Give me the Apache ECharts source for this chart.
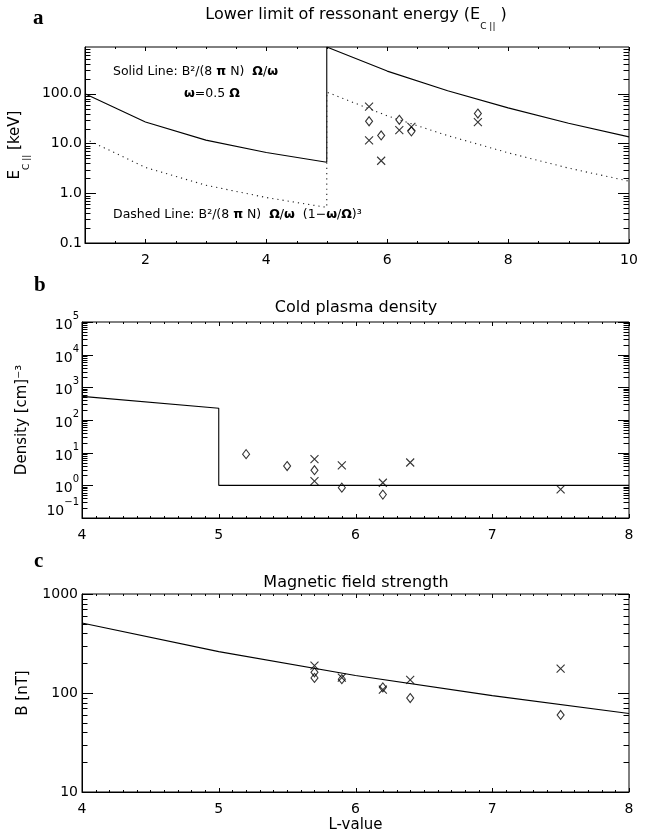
<!DOCTYPE html>
<html>
<head>
<meta charset="utf-8">
<script src="https://cdn.jsdelivr.net/npm/echarts@6/dist/echarts.min.js"></script>
<style>
  html, body { margin: 0; padding: 0; background: #fff; }
  #chart { width: 649px; height: 839px; }
</style>
</head>
<body>
<div id="chart"></div>
<script>
// ---- Panel a: lower limit of resonant energy vs L (model sampled at integer L, jump at L = 5)
const lModelA = [1, 2, 3, 4, 5, 5, 6, 7, 8, 9, 10];
const eSolid = [100, 27, 11.7, 6.6, 4.2, 870, 285, 115, 52, 25.5, 13.6];
const eDashed = [12.5, 3.3, 1.45, 0.82, 0.52, 108, 36, 14.4, 6.5, 3.2, 1.75];
const lCrossA = [5.7, 5.7, 5.9, 6.2, 6.4, 7.5];
const eCrossA = [55, 11.5, 4.5, 18.5, 21.5, 27];
const lDiamA = [5.7, 5.9, 6.2, 6.4, 7.5];
const eDiamA = [28, 14.5, 30, 17.5, 40];

// ---- Panel b: cold plasma density
const lModelB = [4, 5, 5, 6, 7, 8];
const nModel = [530, 230, 1, 1, 1, 1];
const lCrossB = [5.7, 5.7, 5.9, 6.2, 6.4, 7.5];
const nCrossB = [6.3, 1.35, 4.1, 1.2, 5.0, 0.75];
const lDiamB = [5.2, 5.5, 5.7, 5.9, 6.2];
const nDiamB = [9, 3.9, 2.9, 0.85, 0.52];

// ---- Panel c: magnetic field strength
const lModelC = [4, 5, 6, 7, 8];
const bModel = [510, 262, 150, 94, 62];
const lCrossC = [5.7, 5.9, 6.2, 6.4, 7.5];
const bCrossC = [189, 143, 108, 136, 176];
const lDiamC = [5.7, 5.7, 5.9, 6.2, 6.4, 7.5];
const bDiamC = [162, 142, 138, 114, 89, 60];

// ---- Tick values and labels
const xTicksA = [2, 4, 6, 8, 10];
const xTicksBC = [4, 5, 6, 7, 8];
const yTicksA = [0.1, 1, 10, 100];
const yLabelsA = ['0.1', '1.0', '10.0', '100.0'];
const yTicksB = [0.1, 1, 10, 100, 1e3, 1e4, 1e5];
const yExpB = ['−1', '0', '1', '2', '3', '4', '5'];
const yTicksC = [10, 100, 1000];
const yLabelsC = ['10', '100', '1000'];

const FONT = 'DejaVu Sans';
const INK = '#000';

// minor ticks between majors on a linear axis
function linMinors(min, max, step, majors) {
  const out = [];
  const n = Math.round((max - min) / step);
  for (let i = 1; i < n; i++) {
    const v = +(min + i * step).toFixed(6);
    if (!majors.some(m => Math.abs(m - v) < 1e-9)) out.push(v);
  }
  return out;
}
// 2..9 minor ticks inside every decade of a log axis
function logMinors(min, max) {
  const out = [];
  for (let e = Math.floor(Math.log10(min)); e <= Math.ceil(Math.log10(max)); e++) {
    for (let k = 2; k <= 9; k++) {
      const v = +(k * Math.pow(10, e)).toPrecision(6);
      if (v > min && v < max) out.push(v);
    }
  }
  return out;
}
function findTick(ticks, v) {
  return ticks.findIndex(t => Math.abs(Math.log10(t) - Math.log10(v)) < 1e-6);
}
// power-of-ten label; the lowest one sits raised above the frame corner
function powerLabel(v) {
  const i = findTick(yTicksB, v);
  const body = '{b|10}{p|' + (yExpB[i] || '') + '}';
  return i === 0 ? body + '\n{z| }' : body;
}

const X_MAJ = 4, X_MIN = 2, Y_MAJ = 11, Y_MIN = 5.5;

function xAxisFor(gi, min, max, major, name) {
  return {
    gridIndex: gi, type: 'value', min, max, position: 'bottom', silent: true,
    splitLine: { show: false },
    axisLine: { show: true, onZero: false, lineStyle: { color: INK, width: 1 } },
    axisTick: { show: false },
    axisLabel: { show: true, customValues: major, margin: 10, color: INK, fontFamily: FONT, fontSize: 14,
                 formatter: v => String(v) },
    name: name || '', nameLocation: 'middle', nameGap: 26,
    nameTextStyle: { color: INK, fontFamily: FONT, fontSize: 15 }
  };
}
function yAxisFor(gi, min, max, major, formatter, margin, name, nameGap, extra) {
  return Object.assign({
    gridIndex: gi, type: 'log', logBase: 10, min, max, position: 'left', silent: true,
    splitLine: { show: false },
    axisLine: { show: true, onZero: false, lineStyle: { color: INK, width: 1 } },
    axisTick: { show: false },
    axisLabel: { show: true, customValues: major, margin, color: INK, fontFamily: FONT, fontSize: 14, formatter },
    name, nameLocation: 'middle', nameRotate: 90, nameGap,
    nameTextStyle: { color: INK, fontFamily: FONT, fontSize: 15 }
  }, extra || {});
}

// tick table for one panel: [x, y, kind(0 = x tick, 1 = y tick), length]
function tickTable(xr, yr) {
  const rows = [];
  xr.major.forEach(v => rows.push([v, yr.min, 0, X_MAJ]));
  xr.minor.forEach(v => rows.push([v, yr.min, 0, X_MIN]));
  yr.major.forEach(v => rows.push([xr.min, v, 1, Y_MAJ]));
  logMinors(yr.min, yr.max).forEach(v => rows.push([xr.min, v, 1, Y_MIN]));
  return rows;
}
// inward ticks mirrored on all four sides of the frame
function renderTick(params, api) {
  const cs = params.coordSys;
  const kind = api.value(2), len = api.value(3);
  const p = api.coord([api.value(0), api.value(1)]);
  const style = { stroke: INK, lineWidth: 1 };
  if (kind === 0) {
    const x = Math.round(p[0]) + 0.5;
    return { type: 'group', children: [
      { type: 'line', shape: { x1: x, y1: cs.y + cs.height, x2: x, y2: cs.y + cs.height - len }, style },
      { type: 'line', shape: { x1: x, y1: cs.y, x2: x, y2: cs.y + len }, style }
    ] };
  }
  const y = Math.round(p[1]) + 0.5;
  return { type: 'group', children: [
    { type: 'line', shape: { x1: cs.x, y1: y, x2: cs.x + len, y2: y }, style },
    { type: 'line', shape: { x1: cs.x + cs.width, y1: y, x2: cs.x + cs.width - len, y2: y }, style }
  ] };
}
function ticks(i, r) {
  return {
    type: 'custom', coordinateSystem: 'cartesian2d', xAxisIndex: i, yAxisIndex: i,
    data: tickTable(r.x, r.y), renderItem: renderTick, clip: false, silent: true, z: 5,
    animation: false
  };
}

const CROSS = 'path://M0,0L10,10M10,0L0,10';
function pairs(xs, ys) { return xs.map((x, i) => [x, ys[i]]); }
function curve(i, xs, ys, dotted) {
  return {
    type: 'line', xAxisIndex: i, yAxisIndex: i, data: pairs(xs, ys),
    showSymbol: false, silent: true, animation: false,
    lineStyle: dotted ? { color: '#222', width: 1.1, type: [1.2, 4] } : { color: INK, width: 1.1 },
    emphasis: { disabled: true }
  };
}
function marks(i, xs, ys, kind) {
  return {
    type: 'scatter', xAxisIndex: i, yAxisIndex: i, data: pairs(xs, ys),
    symbol: kind === 'x' ? CROSS : 'diamond',
    symbolSize: kind === 'x' ? 8 : [7, 9],
    silent: true, animation: false,
    itemStyle: { color: 'rgba(0,0,0,0)', borderColor: INK, borderWidth: 1.1 },
    emphasis: { disabled: true }
  };
}

const rangeA = { x: { min: 1, max: 10, major: xTicksA, minor: linMinors(1, 10, 0.5, xTicksA) },
                 y: { min: 0.1, max: 870, major: yTicksA } };
const rangeB = { x: { min: 4, max: 8, major: xTicksBC, minor: linMinors(4, 8, 0.1, xTicksBC) },
                 y: { min: 0.1, max: 1e5, major: yTicksB } };
const rangeC = { x: { min: 4, max: 8, major: xTicksBC, minor: linMinors(4, 8, 0.1, xTicksBC) },
                 y: { min: 10, max: 1000, major: yTicksC } };

const txt = (x, y, text, extra) => ({
  type: 'text', x, y, silent: true,
  style: Object.assign({ text, fill: INK, fontFamily: FONT, fontSize: 12.5, align: 'left', verticalAlign: 'middle' }, extra || {})
});
const greekRich = {
  n: { fontFamily: FONT, fontSize: 12.5, color: INK },
  g: { fontFamily: FONT, fontSize: 12.5, color: INK, fontWeight: 'bold' }
};
const letter = { fontFamily: 'Liberation Serif', fontWeight: 'bold', fontSize: 21 };
const frame = { show: true, borderColor: INK, borderWidth: 1, backgroundColor: 'transparent' };

const chart = echarts.init(document.getElementById('chart'), null, { renderer: 'canvas' });
chart.setOption({
  animation: false,
  backgroundColor: '#fff',
  grid: [
    Object.assign({ left: 82, top: 47, width: 547, height: 196 }, frame),
    Object.assign({ left: 82, top: 322, width: 547, height: 196 }, frame),
    Object.assign({ left: 82, top: 594, width: 547, height: 198 }, frame)
  ],
  xAxis: [
    xAxisFor(0, 1, 10, xTicksA),
    xAxisFor(1, 4, 8, xTicksBC),
    xAxisFor(2, 4, 8, xTicksBC, 'L-value')
  ],
  yAxis: [
    yAxisFor(0, 0.1, 870, yTicksA, v => yLabelsA[findTick(yTicksA, v)] || '', 3,
      '{m|E}{s|C ||}{m| [keV]}', 49,
      { nameTextStyle: { color: INK, fontFamily: FONT, fontSize: 15, rich: {
        m: { fontFamily: FONT, fontSize: 15, color: INK, lineHeight: 23, verticalAlign: 'top' },
        s: { fontFamily: FONT, fontSize: 9, color: INK, lineHeight: 23, verticalAlign: 'bottom' }
      } } }),
    yAxisFor(1, 0.1, 1e5, yTicksB, powerLabel, 3, 'Density [cm]⁻³', 52,
      { axisLabel: { show: true, customValues: yTicksB, margin: 3, color: INK, formatter: powerLabel,
        rich: {
          b: { fontFamily: FONT, fontSize: 14, color: INK, lineHeight: 21, verticalAlign: 'bottom' },
          p: { fontFamily: FONT, fontSize: 10, color: INK, lineHeight: 21, verticalAlign: 'top' },
          z: { fontFamily: FONT, fontSize: 6, lineHeight: 20 }
        } } }),
    yAxisFor(2, 10, 1000, yTicksC, v => yLabelsC[findTick(yTicksC, v)] || '', 4, 'B [nT]', 51)
  ],
  series: [
    curve(0, lModelA, eSolid, false),
    curve(0, lModelA, eDashed, true),
    marks(0, lCrossA, eCrossA, 'x'),
    marks(0, lDiamA, eDiamA, 'd'),
    curve(1, lModelB, nModel, false),
    marks(1, lCrossB, nCrossB, 'x'),
    marks(1, lDiamB, nDiamB, 'd'),
    curve(2, lModelC, bModel, false),
    marks(2, lCrossC, bCrossC, 'x'),
    marks(2, lDiamC, bDiamC, 'd'),
    ticks(0, rangeA),
    ticks(1, rangeB),
    ticks(2, rangeC)
  ],
  graphic: [
    // panel letters
    txt(33, 19, 'a', letter),
    txt(34, 286, 'b', letter),
    txt(34, 562, 'c', letter),
    // panel titles
    txt(356, 19, '{m|Lower limit of ressonant energy (E}{s|C ||}{m| )}', {
      align: 'center',
      rich: {
        m: { fontFamily: FONT, fontSize: 16, color: INK, lineHeight: 25, verticalAlign: 'top' },
        s: { fontFamily: FONT, fontSize: 9, color: INK, lineHeight: 25, verticalAlign: 'bottom' }
      }
    }),
    txt(356, 308, 'Cold plasma density', { align: 'center', fontSize: 16 }),
    txt(356, 583, 'Magnetic field strength', { align: 'center', fontSize: 16 }),
    // model annotations in panel a
    txt(113, 72, '{n|Solid Line: B²/(8 }{g|π}{n| N)  }{g|Ω}{n|/}{g|ω}', { rich: greekRich }),
    txt(184, 94, '{g|ω}{n|=0.5 }{g|Ω}', { rich: greekRich }),
    txt(113, 215, '{n|Dashed Line: B²/(8 }{g|π}{n| N)  }{g|Ω}{n|/}{g|ω}{n|  (1−}{g|ω}{n|/}{g|Ω}{n|)³}', { rich: greekRich })
  ]
});
</script>
</body>
</html>
